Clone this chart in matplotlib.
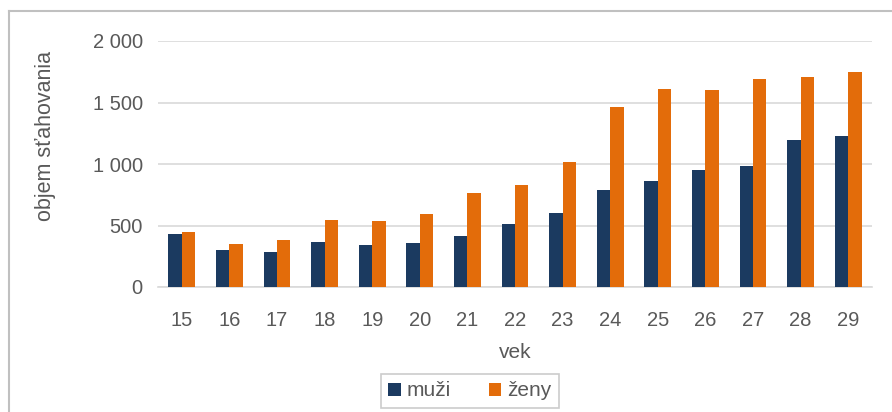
import matplotlib.pyplot as plt
import numpy as np
from matplotlib.lines import Line2D

plt.rcParams["font.family"] = ["Liberation Sans", "DejaVu Sans"]

vek = ["15", "16", "17", "18", "19", "20", "21", "22", "23", "24", "25", "26", "27", "28", "29"]
muzi = [431, 298, 282, 363, 345, 361, 412, 510, 599, 786, 862, 954, 986, 1198, 1230]
zeny = [445, 353, 385, 548, 534, 597, 764, 826, 1019, 1463, 1607, 1599, 1688, 1705, 1745]
y_ticks = [0, 500, 1000, 1500, 2000]
y_tick_labels = ["0", "500", "1 000", "1 500", "2 000"]

text_color = "#595959"
grid_color = "#D9D9D9"

fig = plt.figure(figsize=(8.92, 4.12), dpi=100)
ax = fig.add_axes([158 / 892, 1 - 287 / 412, (872 - 158) / 892, (287 - 41) / 412])

x = np.arange(len(vek))
w = 0.28
ax.bar(x - w / 2, muzi, width=w, color="#1B3A60", label="muži", zorder=3)
ax.bar(x + w / 2, zeny, width=w, color="#E36C0A", label="ženy", zorder=3)

ax.set_xlim(-0.5, len(vek) - 0.5)
ax.set_ylim(0, 2000)
ax.set_yticks(y_ticks)
ax.set_yticklabels(y_tick_labels)
ax.set_xticks(x)
ax.set_xticklabels(vek)
ax.tick_params(axis="both", length=0, labelsize=14.5, colors=text_color)
ax.tick_params(axis="y", pad=11)
ax.tick_params(axis="x", pad=17)
ax.grid(axis="y", color=grid_color, linewidth=1.2, zorder=0)
for side in ["top", "right", "left"]:
    ax.spines[side].set_visible(False)
ax.spines["bottom"].set_color(grid_color)
ax.spines["bottom"].set_linewidth(1.2)

ax.set_xlabel("vek", fontsize=15, color=text_color, labelpad=10)
ax.set_ylabel("objem sťahovania", fontsize=15.5, color=text_color)
# label sits above the axis centre in the reference
ax.yaxis.set_label_coords((56 - 158) / (872 - 158), (287 - 136) / (287 - 41))

leg = fig.legend(loc="center", bbox_to_anchor=(470 / 892, 1 - 391 / 412), ncol=2,
                 frameon=True, fontsize=15, handlelength=0.6, handleheight=0.6,
                 handletextpad=0.3, columnspacing=1.8, borderpad=0.35, borderaxespad=0,
                 fancybox=False)
leg.get_frame().set_edgecolor("#BFBFBF")
leg.get_frame().set_linewidth(1.2)
for t in leg.get_texts():
    t.set_color(text_color)

# outer frame, only left and top edges visible
frame_color = "#C0C0C0"
fig.lines.append(Line2D([8.5 / 892, 8.5 / 892], [0, 1 - 11 / 412], transform=fig.transFigure,
                        color=frame_color, linewidth=1.5))
fig.lines.append(Line2D([8.5 / 892, 1], [1 - 11 / 412, 1 - 11 / 412], transform=fig.transFigure,
                        color=frame_color, linewidth=1.5))

fig.savefig("out.png", dpi=100)
